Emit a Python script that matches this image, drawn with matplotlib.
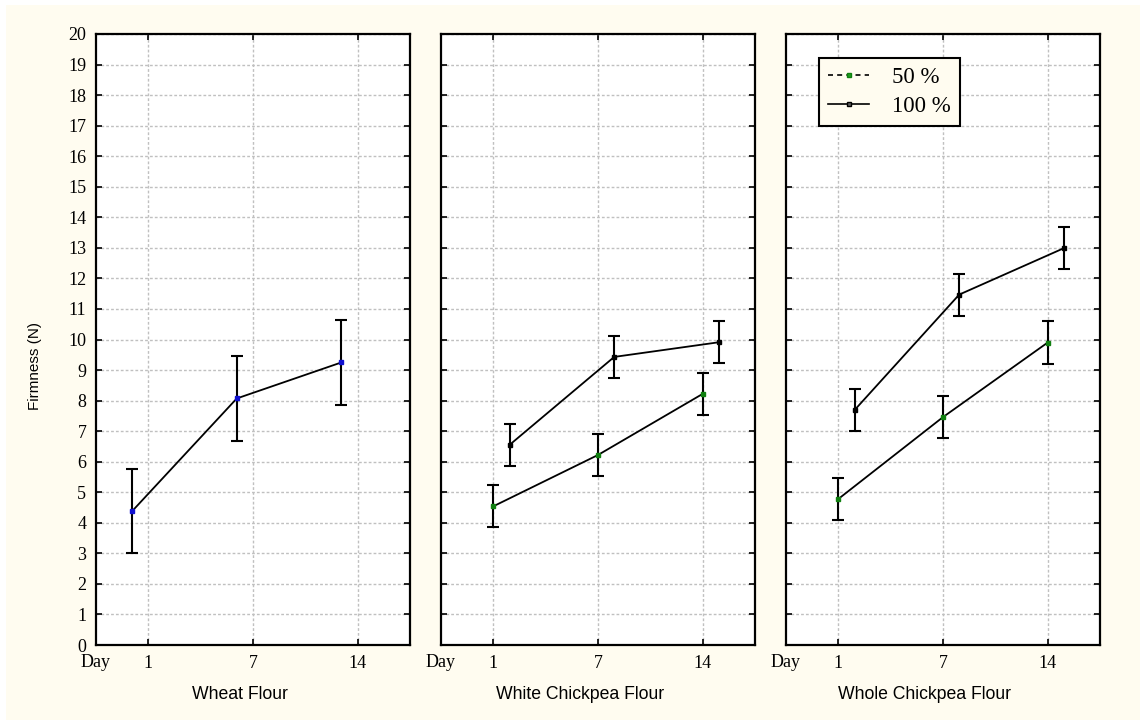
import matplotlib
matplotlib.use("Agg")
import matplotlib.pyplot as plt
from matplotlib.patches import Rectangle
from matplotlib.lines import Line2D
import numpy as np

# ---- data ----
days = ["1", "7", "14"]
panels = ["Wheat Flour", "White Chickpea Flour", "Whole Chickpea Flour"]

wheat_mean = [4.38, 8.07, 9.25]
wheat_err = [1.38, 1.38, 1.38]

white50_mean = [4.54, 6.22, 8.22]
white50_err = [0.69, 0.69, 0.69]
white100_mean = [6.55, 9.43, 9.91]
white100_err = [0.69, 0.69, 0.69]

whole50_mean = [4.78, 7.46, 9.90]
whole50_err = [0.69, 0.69, 0.69]
whole100_mean = [7.69, 11.47, 12.99]
whole100_err = [0.69, 0.69, 0.69]

series_labels = ["50 %", "100 %"]
y_ticks = list(range(0, 21))

# ---- style ----
cream = "#fffcf0"
serif = ["Liberation Serif", "DejaVu Serif"]
sans = ["Liberation Sans", "DejaVu Sans"]
plt.rcParams["font.family"] = serif
plt.rcParams["xtick.labelsize"] = 13
plt.rcParams["ytick.labelsize"] = 13

fig = plt.figure(figsize=(11.4, 7.2), dpi=100)
fig.patch.set_facecolor("white")
fig.patches.append(Rectangle((6 / 1140, 0), 1 - 6 / 1140, 1 - 5 / 720,
                             transform=fig.transFigure, facecolor=cream,
                             edgecolor="none", zorder=-10))

lefts = [96, 441, 786]
width = 314
bottom = 1 - 645 / 720
height = (645 - 34) / 720
xlabel_centers = [239.5, 580, 924]

x = np.arange(len(days))

axes = []
for i, l in enumerate(lefts):
    ax = fig.add_axes([l / 1140, bottom, width / 1140, height])
    ax.set_facecolor("white")
    ax.set_xlim(-0.5, 2.5)
    ax.set_ylim(0, 20)
    ax.set_yticks(y_ticks)
    ax.set_xticks(x)
    ax.set_xticklabels(days)
    if i != 0:
        ax.set_yticklabels([])
    ax.tick_params(direction="in", length=4, width=1.2, top=True, right=True,
                   pad=7, colors="black")
    ax.tick_params(axis="x", pad=7)
    for s in ax.spines.values():
        s.set_linewidth(1.6)
        s.set_color("black")
    ax.grid(True, color="#c0c0c0", linestyle=(0, (2, 1.5)), linewidth=1.0)
    ax.set_axisbelow(True)
    ax.set_xlabel(panels[i], fontfamily=sans, fontsize=12.7)
    ax.xaxis.set_label_coords((xlabel_centers[i] - l) / width, -0.067)
    ax.text(0, -0.029, "Day", transform=ax.transAxes, ha="center", va="center",
            fontsize=13)
    axes.append(ax)

axes[0].set_ylabel("Firmness (N)", fontfamily=sans, fontsize=11)
axes[0].yaxis.set_label_coords((41.5 - 96) / width, (645 - 366) / 611)

eb_kw = dict(ecolor="black", elinewidth=1.5, capsize=4, capthick=1.5,
             color="black", linewidth=1.3, markersize=3.2, marker="s", zorder=3)

# Wheat flour
axes[0].errorbar(x - 0.155, wheat_mean, yerr=wheat_err, mfc="#1010d0",
                 mec="#1010d0", **eb_kw)

# White chickpea
axes[1].errorbar(x, white50_mean, yerr=white50_err, mfc="#108010", mec="#108010", **eb_kw)
axes[1].errorbar(x + 0.155, white100_mean, yerr=white100_err, mfc="black", mec="black", **eb_kw)

# Whole chickpea
axes[2].errorbar(x, whole50_mean, yerr=whole50_err, mfc="#108010", mec="#108010", **eb_kw)
axes[2].errorbar(x + 0.155, whole100_mean, yerr=whole100_err, mfc="black", mec="black", **eb_kw)

handles = [
    Line2D([], [], color="black", linestyle=(0, (3, 2.5)), linewidth=1.2,
           marker="s", markersize=3.2, mfc="#20a020", mec="#108010"),
    Line2D([], [], color="black", linestyle="-", linewidth=1.2,
           marker="s", markersize=3.2, mfc="#606060", mec="black"),
]
leg = axes[2].legend(handles, series_labels, loc="upper left",
                     bbox_to_anchor=(33 / 314, 1 - 24 / 611),
                     prop={"family": serif, "size": 16.5}, frameon=True,
                     fancybox=False, edgecolor="black", facecolor=cream,
                     framealpha=1, borderpad=0.4, labelspacing=0.35,
                     handlelength=1.8, handletextpad=1.0, borderaxespad=0)
leg.get_frame().set_linewidth(1.5)

fig.savefig("out.png", dpi=100, facecolor=fig.get_facecolor())
